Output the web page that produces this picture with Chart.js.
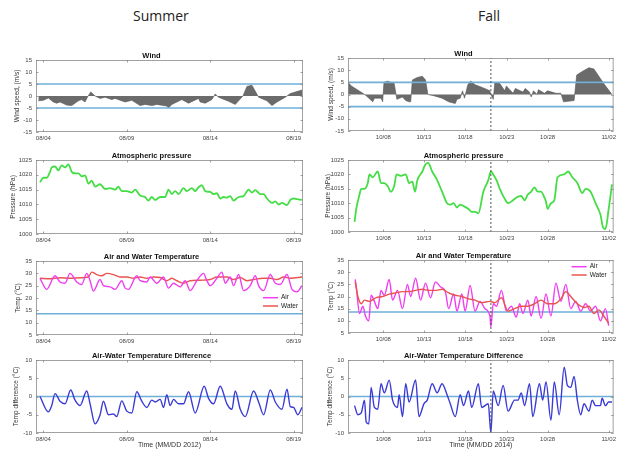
<!DOCTYPE html>
<html>
<head>
<meta charset="utf-8">
<script src="https://cdn.jsdelivr.net/npm/chart.js@4.4.0/dist/chart.umd.min.js"></script>
<style>
body { margin: 0; background: #fff; width: 619px; height: 449px; position: relative; overflow: hidden; }
canvas { position: absolute; }
.head { position: absolute; font-family: 'Open Sans', sans-serif; font-size: 14px; color: #222; line-height: 19px; }
</style>
</head>
<body>
<div class="head" style="left:133px;top:6px">Summer</div>
<div class="head" style="left:478px;top:6px">Fall</div>

<canvas id="sWind" width="310" height="99" style="left:0;top:47px"></canvas>
<canvas id="fWind" width="309" height="100" style="left:310px;top:45px"></canvas>
<canvas id="sPres" width="310" height="101" style="left:0;top:147px"></canvas>
<canvas id="fPres" width="309" height="99" style="left:310px;top:147px"></canvas>
<canvas id="sTemp" width="310" height="101" style="left:0;top:248px"></canvas>
<canvas id="fTemp" width="309" height="100" style="left:310px;top:247px"></canvas>
<canvas id="sDiff" width="310" height="102" style="left:0;top:347px"></canvas>
<canvas id="fDiff" width="309" height="102" style="left:310px;top:347px"></canvas>

<script>
// time axis, in days of the month (summer = August 2012, fall = October 2014)
var sumRange = [3.56, 19.56];
var fallRange = [3.65, 36.37];
var sumTickPos = [4, 9, 14, 19];
var sumTickLab = ['08/04', '08/09', '08/14', '08/19'];
var fallTickPos = [8, 13, 18.08, 23.2, 28.24, 35.76];
var fallTickLab = ['10/08', '10/13', '10/18', '10/23', '10/28', '11/02'];
var fallMark = 21.25;       // dotted vertical line
var windLimits = [-5, 5];
var tempRef = 13.6;
var diffRef = 0;

// wind speed (m/s)
var sWindT = [3.7,4.0,4.3,4.6,4.8,5.0,5.4,5.7,6.1,6.3,6.5,6.64,6.84,7.1,7.4,7.7,8.1,8.3,8.9,9.3,9.8,10.1,10.5,10.8,11.4,11.5,11.7,12.3,12.7,13.3,13.4,13.7,14.1,14.3,14.5,15.1,15.5,15.7,15.96,16.2,16.5,16.7,16.9,17.4,17.7,18.0,18.5,18.8,19.5];
var sWindV = [-2,-1.8,-0.8,-2.5,-3,-2.5,-3.8,-4,-2,-1.5,-2.5,-0.5,1.7,0,-1,-0.5,-1.5,-1,-2.5,-1.8,-4,-3.5,-4,-3.5,-4.2,-5,-3.5,-1.5,-3,-1,-2.5,-3,-1.5,0.8,-0.5,-2.2,-3.5,-2,0,4,4.5,2,-0.5,-2,-4,-2.5,-0.5,1,2.5];
var fWindT = [3.65,4.06,5.48,5.89,6.7,6.9,7.72,7.92,8.08,8.53,9.34,9.67,10.36,10.76,11.17,11.37,11.58,12.19,12.8,13.2,13.49,14.22,15.24,16.05,16.86,17.07,17.47,17.76,18.0,18.41,18.77,19.3,20.11,21.13,21.25,21.54,21.74,22.35,22.96,23.16,23.57,23.98,24.26,25.2,25.48,26.0,26.21,26.5,26.94,27.1,27.84,28.24,29.26,29.87,30.2,31.5,31.82,32.51,33.33,33.94,34.34,35.15,36.17];
var fWindV = [5,3.5,0.5,-0.5,-3,-1.5,-1.5,-3,5,5.5,4.5,-2,-1,-2.5,-3,-3,6,7,7.5,6,0,-0.5,-1.5,-3,-3.7,-2,-1.5,1.5,-1.5,4,5.5,4,3,1.5,0,-2,5,4.5,1.5,3.5,2,0.5,2.5,1,2.5,1,-1,1.5,0,2,0.5,1.5,0.5,0.5,-3,-2.5,8,9.5,11,10.5,8.5,4.5,0];

// atmospheric pressure (hPa)
var sPresT = [3.8,4.0,4.2,4.4,4.5,4.7,4.9,5.1,5.3,5.5,5.7,5.9,6.1,6.3,6.5,6.7,6.9,7.1,7.4,7.7,8.0,8.3,8.5,8.7,9.0,9.3,9.5,9.8,10.1,10.3,10.5,10.7,11.0,11.3,11.5,11.7,11.9,12.1,12.4,12.6,12.9,13.1,13.3,13.5,13.7,14.0,14.2,14.4,14.6,14.8,15.0,15.2,15.4,15.7,16.0,16.3,16.5,16.7,17.0,17.2,17.4,17.7,17.9,18.1,18.3,18.6,18.8,19.0,19.2,19.5];
var sPresV = [1017.5,1019,1019,1021,1022.5,1022.8,1021.5,1023.2,1022.5,1023.5,1021,1020.5,1020.5,1019.5,1019.8,1017,1018,1016,1016.8,1015.2,1015.5,1015,1016,1014.5,1014.5,1014,1015,1013,1012.5,1011.3,1012.5,1011.5,1012.5,1012.5,1015,1013.5,1014.5,1013.5,1015.5,1014.5,1015.5,1014.5,1015.8,1016.5,1014.5,1014.2,1013.5,1013.8,1012,1012.5,1012.3,1012.8,1011.3,1012.5,1012.8,1015,1014,1014.8,1013.5,1013.5,1012,1010.5,1011,1010,1010.5,1009.8,1011.5,1012,1011.8,1011.5];
var fPresT = [4.46,4.67,5.07,5.28,5.68,6.09,6.29,6.7,7.31,7.72,8.12,8.53,8.93,9.34,9.63,10.15,10.76,11.17,11.58,11.9,12.19,12.8,13.2,13.53,14.02,14.63,15.24,15.85,16.25,16.66,17.07,17.47,17.88,18.49,18.89,19.3,19.71,20.32,20.93,21.25,21.54,21.94,22.35,22.96,23.37,23.98,24.38,24.99,25.4,25.8,26.21,26.62,27.02,27.43,27.84,28.04,28.24,28.65,29.06,29.46,30.28,30.76,31.29,31.9,32.51,32.92,33.53,34.14,34.75,35.07,35.36,35.76,36.17];
var fPresV = [1003.5,1008,1013,1015,1015,1017,1020,1019,1021,1017,1017,1016,1014,1016,1020,1019.5,1020,1017,1017.5,1014,1018,1021,1023.5,1024,1021,1018,1014,1010,1009.5,1010,1008.5,1009.5,1009,1008,1007,1007,1006.5,1014,1018,1021,1020,1018,1015,1011.5,1010,1011,1012,1012.5,1011,1013,1014,1015.5,1014,1014,1012,1010.5,1008,1010,1011,1019,1020,1021,1019,1017,1013.5,1015,1014,1010,1006,1001.5,1001,1008,1016.5];

// air and water temperature (deg C)
var sAirT = [3.8,4.2,4.7,5.0,5.3,5.6,6.0,6.3,6.6,6.8,7.0,7.4,7.6,8.0,8.3,8.7,8.9,9.1,9.6,9.8,10.2,10.4,10.8,11.2,11.5,11.8,12.2,12.5,12.8,13.2,13.6,13.8,14.0,14.4,14.7,14.9,15.2,15.4,15.7,16.0,16.4,16.7,16.9,17.2,17.6,17.9,18.2,18.6,18.9,19.2,19.5];
var sAirV = [28,23.5,29,26.5,26,30,26.5,25.5,30,27,22.8,27.5,25,24.5,23.5,27,24,23.5,29,27,26.5,28.5,26,28.5,24,26,24.5,27,23,27,30,27,25,28,30.5,26,28.5,25,29.5,23,25,29,25,23,29.5,26,25.5,29.5,23.5,22.5,25];
var sWaterT = [3.8,4.4,5.0,5.6,6.2,6.7,6.9,7.2,7.5,7.8,8.2,8.6,9.0,9.4,9.8,10.2,10.6,11.0,11.4,11.7,12.0,12.4,12.8,13.4,14.0,14.4,15.0,15.4,15.8,16.2,16.6,17.2,17.6,18.0,18.4,18.8,19.5];
var sWaterV = [28,27.8,28.2,28,28.2,28.5,30.5,29.5,29,30,29.5,28.5,28.5,28,28.5,28,28.5,28.3,27,28,27,26,27,27.2,27.5,28.5,28.5,27.5,28.3,27,27.5,28,28,27.5,28.5,28,28.5];
var fAirT = [4.54,4.67,5.07,5.48,5.8,6.21,6.5,6.9,7.31,7.72,8.12,8.73,9.14,9.75,10.36,10.97,11.37,11.98,12.59,13.2,13.81,14.42,15.03,15.64,16.05,16.66,17.07,17.67,18.08,18.69,19.3,19.91,20.52,21.13,21.25,21.54,21.94,22.55,23.16,23.77,24.38,24.79,25.2,25.8,26.21,26.82,27.43,28.04,28.65,29.26,29.87,30.48,31.09,31.7,32.31,32.92,33.53,34.14,34.75,35.36,35.76];
var fAirV = [27,24,13,16,12,10,20.5,18,15,22.5,20.5,27,18.5,22.5,15,25,20,27.5,18.5,25.5,19.5,26,24,22,15,21,14,21,14,24.5,14,18,15,12,7.5,17,16,22.5,14,16,11.5,17,13,18.5,12,20,11,21,12,25.5,18,25,15,18,14,17,14,16,10,15,8];
var fWaterT = [4.54,4.87,5.28,5.68,6.29,7.11,7.92,8.73,9.54,10.36,11.17,11.98,12.8,13.61,14.42,15.24,16.05,16.86,17.67,18.49,19.3,20.11,21.13,21.74,22.55,23.37,24.18,24.99,25.8,26.62,27.43,28.24,29.06,29.87,30.48,31.09,31.9,32.72,33.33,33.93,34.54,35.15,35.76];
var fWaterV = [26,20,17,18.5,18,19.5,20,21,21.5,22,22,22.5,23,22.5,22.5,23,21.5,20.5,20,19,18.5,17.5,18,17.5,19.5,14,15,16,16,17,18.5,17,17,19,22,20,17,15.5,16,13,14.5,12,9];
var legendOrder = ['Air', 'Water'];

// air - water temperature difference (deg C)
var sDiffT = [3.8,4.3,4.5,4.7,5.0,5.3,5.64,5.9,6.2,6.6,6.8,7.1,7.4,7.6,7.9,8.2,8.4,8.7,9.0,9.3,9.6,9.9,10.2,10.5,10.7,11.0,11.2,11.4,11.6,11.8,12.1,12.4,12.7,13.1,13.64,13.9,14.2,14.6,15.0,15.3,15.5,15.8,16.1,16.6,16.9,17.2,17.6,17.9,18.3,18.6,18.8,19.0,19.24,19.5];
var sDiffV = [0,-4.2,-2.5,0.8,-1.3,-2,1.8,-1,-2.5,1.5,-2,-7.5,-5,-1.3,-5,-4.8,-5.5,-1.2,-4,-4.5,1.3,-1.3,-3,-1,-1.5,-0.8,-3,0.5,-2.5,-0.8,-2,-2,1.3,-4.5,2.8,-0.5,-2,2.8,-2,-3.5,1.5,-3.5,-5.5,1.5,-1.5,-5,1.8,-1.5,-3.5,2,-2.8,-3,-5,-3];
var fDiffT = [4.46,4.87,5.28,5.68,5.89,6.21,6.5,6.9,7.31,7.72,8.12,8.73,9.14,9.75,9.95,10.36,10.76,11.17,11.98,12.39,13.0,13.41,14.02,14.63,15.24,15.85,16.25,16.86,17.47,17.88,18.49,18.89,19.71,20.11,20.93,21.25,21.54,22.15,22.76,23.37,24.18,24.59,24.99,25.4,26.01,26.41,27.23,27.63,28.04,28.65,29.06,29.67,30.28,30.68,31.09,31.5,31.9,32.31,32.72,33.33,33.73,34.14,34.75,34.95,35.36,35.76,36.17];
var fDiffV = [-2.5,-5,-4.5,-1,-7,-7.5,2.5,-3,-3.5,3.5,1,4.5,-1,-3,0.5,-5.5,3.5,-1.5,4.5,-5.5,-2,-1,3.5,1,3.5,0.5,-2,-5.5,0.5,-2.5,1.5,-3,3.5,-3,-2,-10,1.5,-2.5,3,-4,-1,-1,1,-2.5,3.5,-5.5,3.5,-1,4,-6.5,4,-5,8,3,2.5,5.5,-1,-5,-2,-4,-1,-2.5,-2.5,-0.5,-2.5,-1.5,-1.5];

var refBlue = '#6fafd8';
var txtFont = 'Liberation Sans';

function pts(t, v) {
    return t.map(function(x, i) { return {x: x, y: v[i]}; });
}

function line(t, v, color, width, label) {
    return {
        label: label, data: pts(t, v), borderColor: color, backgroundColor: color,
        borderWidth: width, pointRadius: 0, cubicInterpolationMode: 'monotone', fill: false
    };
}

function hline(y, range) {
    return { data: [{x: range[0], y: y}, {x: range[1], y: y}], borderColor: refBlue, borderWidth: 1.6, pointRadius: 0 };
}

function vline(x, lo, hi) {
    return { data: [{x: x, y: lo}, {x: x, y: hi}], borderColor: '#555', borderWidth: 1, borderDash: [2, 2], pointRadius: 0 };
}

// box round the plot area plus small inward ticks, matlab style
var frame = {
    id: 'frame',
    afterDraw: function(chart) {
        var a = chart.chartArea, ctx = chart.ctx;
        ctx.save();
        ctx.strokeStyle = '#8a8a8a';
        ctx.lineWidth = 0.8;
        ctx.strokeRect(a.left + 0.5, a.top + 0.5, a.right - a.left - 1, a.bottom - a.top - 1);
        ctx.beginPath();
        chart.scales.x.ticks.forEach(function(t) {
            var px = Math.round(chart.scales.x.getPixelForValue(t.value)) + 0.5;
            ctx.moveTo(px, a.top); ctx.lineTo(px, a.top + 2.5);
            ctx.moveTo(px, a.bottom); ctx.lineTo(px, a.bottom - 2.5);
        });
        chart.scales.y.ticks.forEach(function(t) {
            var py = Math.round(chart.scales.y.getPixelForValue(t.value)) + 0.5;
            ctx.moveTo(a.left, py); ctx.lineTo(a.left + 2.5, py);
            ctx.moveTo(a.right, py); ctx.lineTo(a.right - 2.5, py);
        });
        ctx.stroke();
        ctx.restore();
    }
};

// legend drawn inside the plot area
var inLegend = {
    id: 'inLegend',
    afterDatasetsDraw: function(chart, args, opts) {
        if (!opts.show) return;
        var a = chart.chartArea, ctx = chart.ctx;
        var items = chart.data.datasets.filter(function(d) { return d.label; });
        items.sort(function(p, q) { return legendOrder.indexOf(p.label) - legendOrder.indexOf(q.label); });
        ctx.save();
        ctx.font = '6.5px ' + txtFont;
        ctx.textBaseline = 'middle';
        items.forEach(function(d, i) {
            var y = a.top + opts.top + i * 8.3;
            var x0 = a.right - opts.right;
            ctx.strokeStyle = d.borderColor;
            ctx.lineWidth = 1.5;
            ctx.beginPath(); ctx.moveTo(x0, y); ctx.lineTo(x0 + 15, y); ctx.stroke();
            ctx.fillStyle = '#222';
            ctx.fillText(d.label, x0 + 18, y);
        });
        ctx.restore();
    }
};

function buildPanel(id, p) {
    var fall = p.fall;
    var tickPos = fall ? fallTickPos : sumTickPos;
    var tickLab = fall ? fallTickLab : sumTickLab;
    var range = fall ? fallRange : sumRange;
    var small = { family: txtFont, size: 6 };
    new Chart(document.getElementById(id), {
        type: 'line',
        data: { datasets: p.datasets },
        plugins: [frame, inLegend],
        options: {
            responsive: false,
            animation: false,
            devicePixelRatio: 1,
            layout: { padding: { left: 0, right: fall ? 2 : 7, top: 0, bottom: 0 } },
            plugins: {
                legend: { display: false },
                tooltip: { enabled: false },
                title: {
                    display: true, text: p.title, color: '#111',
                    font: { family: txtFont, size: 7.5, weight: 'bold', lineHeight: 1.2 },
                    padding: { top: 4, bottom: 0 }
                },
                inLegend: p.legend || { show: false }
            },
            scales: {
                x: {
                    type: 'linear', min: range[0], max: range[1],
                    afterBuildTicks: function(s) { s.ticks = tickPos.map(function(v) { return {value: v}; }); },
                    afterFit: function(s) { s.height = p.xTitle ? 16 : 14; },
                    ticks: {
                        autoSkip: false, maxRotation: 0, padding: 3, color: '#444', font: small,
                        callback: function(v, i) { return tickLab[i]; }
                    },
                    grid: { display: false, drawTicks: false },
                    border: { display: false },
                    title: {
                        display: !!p.xTitle, text: p.xTitle || '', color: '#333',
                        font: { family: txtFont, size: 7 }, padding: { top: 0, bottom: 0 }
                    }
                },
                y: {
                    min: p.yMin, max: p.yMax,
                    afterFit: function(s) { s.width = fall ? 38 : 36; },
                    ticks: {
                        stepSize: 5, padding: 4, color: '#444', font: small,
                        callback: function(v) { return String(v); }
                    },
                    grid: { display: false, drawTicks: false },
                    border: { display: false },
                    title: {
                        display: true, text: p.yTitle, color: '#333',
                        font: { family: txtFont, size: 6.5 }, padding: { top: p.yPad, bottom: 0 }
                    }
                }
            }
        }
    });
}

var windFill = function(t, v) {
    return { data: pts(t, v), borderColor: '#555', borderWidth: 0.6, backgroundColor: '#6b6b6b', fill: 'origin', pointRadius: 0, tension: 0 };
};

buildPanel('sWind', {
    title: 'Wind', yTitle: 'Wind speed, (m/s)', yMin: -15, yMax: 15, yPad: 13,
    datasets: [hline(windLimits[0], sumRange), hline(windLimits[1], sumRange), windFill(sWindT, sWindV)]
});
buildPanel('fWind', {
    fall: true, title: 'Wind', yTitle: 'Wind speed, (m/s)', yMin: -15, yMax: 15, yPad: 17,
    datasets: [vline(fallMark, -15, 15), hline(windLimits[0], fallRange), hline(windLimits[1], fallRange), windFill(fWindT, fWindV)]
});
buildPanel('sPres', {
    title: 'Atmospheric pressure', yTitle: 'Pressure (hPa)', yMin: 1000, yMax: 1025, yPad: 9.5,
    datasets: [line(sPresT, sPresV, '#45dd45', 1.8)]
});
buildPanel('fPres', {
    fall: true, title: 'Atmospheric pressure', yTitle: 'Pressure (hPa)', yMin: 1000, yMax: 1025, yPad: 14,
    datasets: [vline(fallMark, 1000, 1025), line(fPresT, fPresV, '#45dd45', 1.8)]
});
buildPanel('sTemp', {
    title: 'Air and Water Temperature', yTitle: 'Temp (°C)', yMin: 5, yMax: 35, yPad: 14,
    legend: { show: true, top: 36.7, right: 40 },
    datasets: [line(sAirT, sAirV, '#f03df0', 1.4, 'Air'), line(sWaterT, sWaterV, '#e8544e', 1.4, 'Water'), hline(tempRef, sumRange)]
});
buildPanel('fTemp', {
    fall: true, title: 'Air and Water Temperature', yTitle: 'Temp (°C)', yMin: 5, yMax: 35, yPad: 17,
    legend: { show: true, top: 6.7, right: 42 },
    datasets: [vline(fallMark, 5, 35), line(fWaterT, fWaterV, '#e8544e', 1.4, 'Water'), line(fAirT, fAirV, '#f03df0', 1.4, 'Air'), hline(tempRef, fallRange)]
});
buildPanel('sDiff', {
    title: 'Air-Water Temperature Difference', yTitle: 'Temp difference (°C)', yMin: -10, yMax: 10, yPad: 12.5,
    xTitle: 'Time (MM/DD 2012)',
    datasets: [line(sDiffT, sDiffV, '#3a3ad6', 1.4), hline(diffRef, sumRange)]
});
buildPanel('fDiff', {
    fall: true, title: 'Air-Water Temperature Difference', yTitle: 'Temp difference (°C)', yMin: -10, yMax: 10, yPad: 16.5,
    xTitle: 'Time (MM/DD 2014)',
    datasets: [vline(fallMark, -10, 10), line(fDiffT, fDiffV, '#3a3ad6', 1.4), hline(diffRef, fallRange)]
});
</script>
</body>
</html>
